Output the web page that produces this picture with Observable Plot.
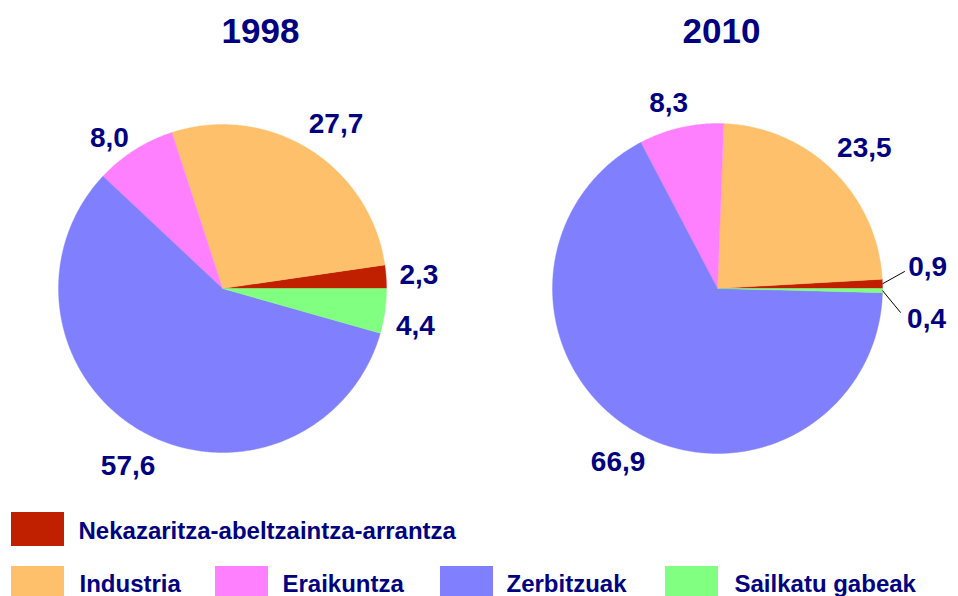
<!DOCTYPE html>
<html><head><meta charset="utf-8">
<script src="https://cdn.jsdelivr.net/npm/d3@7"></script>
<script src="https://cdn.jsdelivr.net/npm/@observablehq/plot@0.6"></script>
<style>body{margin:0;background:#fff}</style>
</head><body><div id="chart"></div>
<script>
// ---- data ----
const categories = ["Nekazaritza-abeltzaintza-arrantza", "Industria", "Eraikuntza", "Zerbitzuak", "Sailkatu gabeak"];
const years = ["1998", "2010"];
const values1998 = [2.3, 27.7, 8.0, 57.6, 4.4];
const values2010 = [0.9, 23.5, 8.3, 66.9, 0.4];
const colors = ["#C02000", "#FFC06C", "#FF80FF", "#8080FF", "#80FF80"];

// ---- layout ----
const W = 958, H = 596;
const FONT = "'Liberation Sans', Arial, Helvetica, sans-serif";
const NAVY = "#000080";
const pies = [
  {year: years[0], values: values1998, cx: 222, cy: 288, r: 164, titleX: 260,
   labelAdj: [[-0.3, 1.20], [-2.7, 1.22], [4.6, 1.146], [1.5, 1.225], [-3, 1.198]], leaders: []},
  {year: years[1], values: values2010, cx: 717, cy: 288, r: 165, titleX: 721,
   labelAdj: [[4.1, 1.28], [-1.9, 1.23], [2, 1.16], [2, 1.21], [-7.5, 1.28]],
   leaders: [{i: 0, dA: 3.6, k: 1.14}, {i: 4, dA: -6.8, k: 1.12}]}
];
const legendLayout = [
  {x: 11, y1: 512, y2: 546, tx: 78, ty: 538},
  {x: 11, y1: 566, y2: 600, tx: 79, ty: 591},
  {x: 215, y1: 566, y2: 600, tx: 282, ty: 591},
  {x: 440, y1: 566, y2: 600, tx: 506, ty: 591},
  {x: 665, y1: 566, y2: 600, tx: 734, ty: 591}
];
const SW = 53;

const rad = a => a * Math.PI / 180;
const pt = (p, a, k) => [p.cx + p.r * k * Math.cos(rad(a)), p.cy - p.r * k * Math.sin(rad(a))];

const polys = [], labels = [], links = [], titles = [];
pies.forEach(p => {
  const total = d3.sum(p.values);
  let acc = 0;
  titles.push({text: p.year, x: p.titleX, y: 42});
  p.values.forEach((v, i) => {
    const a0 = acc / total * 360, a1 = (acc + v) / total * 360;
    acc += v;
    const key = p.year + "-" + i;
    polys.push({key, cat: categories[i], x: p.cx, y: p.cy});
    const n = Math.max(2, Math.ceil((a1 - a0) / 0.5));
    for (let j = 0; j <= n; j++) {
      const [x, y] = pt(p, a0 + (a1 - a0) * j / n, 1);
      polys.push({key, cat: categories[i], x, y});
    }
    polys.push({key, cat: categories[i], x: p.cx, y: p.cy});
    const mid = (a0 + a1) / 2;
    const [dA, k] = p.labelAdj[i];
    const [lx, ly] = pt(p, mid + dA, k);
    labels.push({text: v.toFixed(1).replace(".", ","), x: lx, y: ly});
    const L = p.leaders.find(l => l.i === i);
    if (L) {
      const [x1, y1] = pt(p, mid, 1);
      const [x2, y2] = pt(p, mid + L.dA, L.k);
      links.push({x1, y1, x2, y2});
    }
  });
});

const legend = categories.map((c, i) => ({cat: c, ...legendLayout[i]}));

const chart = Plot.plot({
  width: W, height: H,
  margin: 0,
  x: {domain: [0, W], range: [0, W], axis: null},
  y: {domain: [0, H], range: [0, H], axis: null},
  color: {domain: categories, range: colors},
  style: {fontFamily: FONT, background: "#fff"},
  marks: [
    Plot.line(polys, {x: "x", y: "y", z: "key", fill: "cat", stroke: "cat", strokeWidth: 0.4, curve: "linear"}),
    Plot.link(links, {x1: "x1", y1: "y1", x2: "x2", y2: "y2", stroke: "#000", strokeWidth: 1}),
    Plot.text(labels, {x: "x", y: "y", text: "text", fill: NAVY, fontSize: 28, fontWeight: "bold", textAnchor: "middle"}),
    Plot.text(titles, {x: "x", y: "y", text: "text", fill: NAVY, fontSize: 35, fontWeight: "bold", textAnchor: "middle", lineAnchor: "bottom"}),
    Plot.rect(legend, {x1: "x", x2: d => d.x + SW, y1: "y1", y2: "y2", fill: "cat"}),
    Plot.text(legend, {x: "tx", y: "ty", text: "cat", fill: NAVY, fontSize: 24, fontWeight: "bold", textAnchor: "start", lineAnchor: "bottom"})
  ]
});
document.getElementById("chart").appendChild(chart);
</script>
</body></html>
